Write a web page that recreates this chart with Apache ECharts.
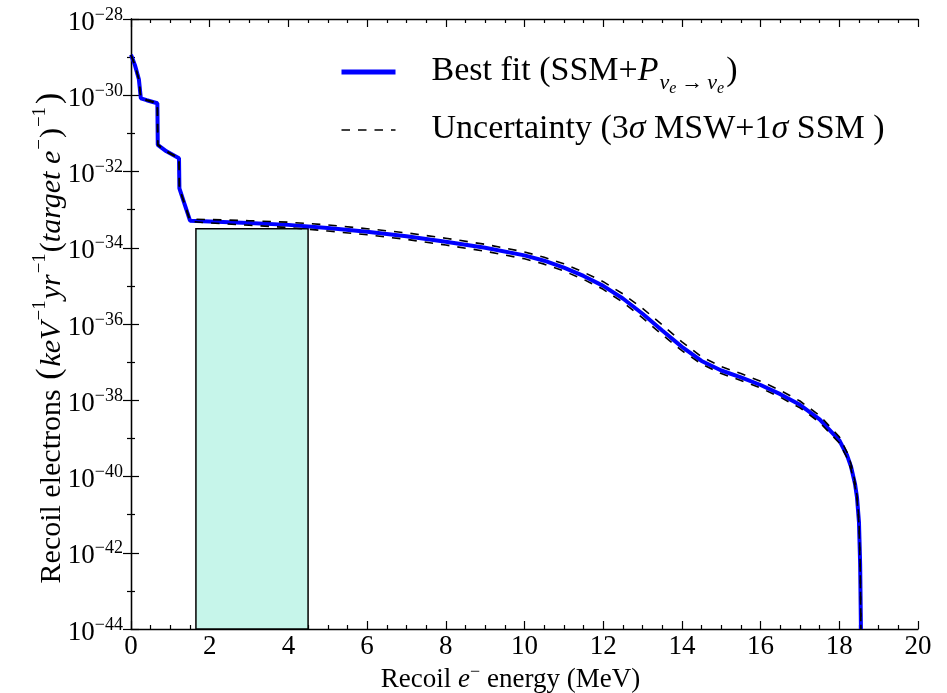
<!DOCTYPE html>
<html>
<head>
<meta charset="utf-8">
<title>Recoil electron spectrum</title>
<script src="https://cdn.jsdelivr.net/npm/echarts@6/dist/echarts.min.js"></script>
<style>
  html, body { margin: 0; padding: 0; background: #fff; }
  #chart { width: 947px; height: 693px; }
</style>
</head>
<body>
<div id="chart"></div>
<script>
// Recoil electron energy (MeV) sample points
const energy = [0.00, 0.10, 0.20, 0.25, 0.40, 0.67, 0.68, 0.90, 1.22, 1.23, 1.37, 1.50,
  2.0, 3.0, 4.0, 5.0, 6.0, 7.0, 8.0, 9.0, 10.0, 10.5, 11.0, 11.5, 12.0, 12.5, 13.0,
  13.5, 14.0, 14.5, 15.0, 15.5, 16.0, 16.5, 17.0, 17.5, 18.0, 18.2, 18.3, 18.4,
  18.45, 18.5, 18.53, 18.55];

// log10 of the rate, keV^-1 yr^-1 (target e^-)^-1
const bestFitLog = [-28.94, -29.21, -29.58, -30.08, -30.13, -30.21, -31.30, -31.47, -31.65, -32.44, -32.88, -33.29,
  -33.31, -33.35, -33.40, -33.48, -33.58, -33.70, -33.84, -34.00, -34.20, -34.34, -34.52, -34.74, -35.00, -35.33, -35.73,
  -36.17, -36.60, -36.97, -37.22, -37.40, -37.60, -37.84, -38.12, -38.50, -39.05, -39.45, -39.75, -40.20,
  -40.55, -41.20, -42.30, -44.00];

const upperLog = [-28.94, -29.21, -29.58, -30.07, -30.12, -30.20, -31.29, -31.46, -31.64, -32.43, -32.86, -33.25,
  -33.26, -33.29, -33.33, -33.40, -33.50, -33.61, -33.75, -33.91, -34.11, -34.25, -34.42, -34.64, -34.89, -35.21, -35.59,
  -36.02, -36.47, -36.86, -37.12, -37.30, -37.50, -37.74, -38.02, -38.40, -38.96, -39.37, -39.68, -40.14,
  -40.50, -41.15, -42.25, -44.00];

const lowerLog = [-28.95, -29.22, -29.59, -30.09, -30.14, -30.22, -31.31, -31.48, -31.66, -32.45, -32.90, -33.31,
  -33.35, -33.41, -33.47, -33.56, -33.66, -33.78, -33.93, -34.09, -34.29, -34.43, -34.61, -34.83, -35.09, -35.43, -35.84,
  -36.28, -36.70, -37.05, -37.30, -37.48, -37.68, -37.92, -38.20, -38.58, -39.12, -39.52, -39.82, -40.26,
  -40.60, -41.25, -42.35, -44.00];

// Detection window: [E_min, E_max, log10 height]
const windowBox = [1.65, 4.5, -33.5];

// Axis ranges; the y axis runs in decades (log10 of the rate)
const xTicks = { min: 0, max: 20, interval: 2 };
const yDecades = { min: -44, max: -28, interval: 2 };

const FONT = 'Liberation Serif';
const DASH = [8.5, 8];

const toPairs = (xs, ys) => xs.map((x, i) => [x, ys[i]]);
const minus = s => String(s).replace('-', '\u2212');

const frameLine = { show: true, lineStyle: { color: '#000', width: 1.3 } };
const majorTick = { show: true, inside: true, length: 8, lineStyle: { color: '#000', width: 1.2 } };

const yLabelRich = {
  b: { fontFamily: FONT, fontSize: 27, lineHeight: 26, padding: [3, 0, 9, 0], verticalAlign: 'top', color: '#000' },
  s: { fontFamily: FONT, fontSize: 18, lineHeight: 18, verticalAlign: 'top', color: '#000' }
};

const xTitleRich = {
  n: { fontFamily: FONT, fontSize: 27, lineHeight: 28, padding: [4, 0, 0, 0], verticalAlign: 'top', color: '#000' },
  i: { fontFamily: FONT, fontSize: 27, fontStyle: 'italic', lineHeight: 28, padding: [4, 0, 0, 0], verticalAlign: 'top', color: '#000' },
  sup: { fontFamily: FONT, fontSize: 18, lineHeight: 18, padding: [1, 0, 0, 0], verticalAlign: 'top', color: '#000' }
};

const yTitleRich = {
  n: { fontFamily: FONT, fontSize: 30, lineHeight: 32, padding: [6, 0, 0, 0], verticalAlign: 'top', color: '#000' },
  i: { fontFamily: FONT, fontSize: 30, fontStyle: 'italic', lineHeight: 32, padding: [6, 0, 0, 0], verticalAlign: 'top', color: '#000' },
  big: { fontFamily: FONT, fontSize: 34, lineHeight: 36, padding: [2, 2, 0, 2], verticalAlign: 'top', color: '#000' },
  sup: { fontFamily: FONT, fontSize: 19, lineHeight: 19, padding: [0, 1, 0, 1], verticalAlign: 'top', color: '#000' }
};

const legendRich = {
  t: { fontFamily: FONT, fontSize: 34, lineHeight: 36, verticalAlign: 'top', color: '#000' },
  it: { fontFamily: FONT, fontSize: 34, fontStyle: 'italic', lineHeight: 36, verticalAlign: 'top', color: '#000' },
  sb: { fontFamily: FONT, fontSize: 22, fontStyle: 'italic', lineHeight: 22, padding: [18, 0, 0, 1], verticalAlign: 'top', color: '#000' },
  sbn: { fontFamily: FONT, fontSize: 22, lineHeight: 22, padding: [18, 3, 0, 3], verticalAlign: 'top', color: '#000' },
  ssb: { fontFamily: FONT, fontSize: 16, fontStyle: 'italic', lineHeight: 16, padding: [27, 2, 0, 0], verticalAlign: 'top', color: '#000' }
};

const legendText = {
  'Best fit': '{t|Best fit (SSM+}{it|P}{sb|\u03bd}{ssb|e}{sbn|\u2192}{sb|\u03bd}{ssb|e}{t|)}',
  'Uncertainty': '{t|Uncertainty (3}{it|\u03c3}{t| MSW+1}{it|\u03c3}{t| SSM )}'
};

const chart = echarts.init(document.getElementById('chart'), null, { renderer: 'canvas' });

const xAxisBase = {
  type: 'value', min: xTicks.min, max: xTicks.max, interval: xTicks.interval,
  axisLine: frameLine,
  axisTick: majorTick,
  minorTick: { show: true, splitNumber: 4, length: 4, lineStyle: { color: '#000', width: 1.2 } },
  splitLine: { show: false },
  minorSplitLine: { show: false }
};

const yAxisBase = {
  type: 'value', min: yDecades.min, max: yDecades.max, interval: yDecades.interval,
  axisLine: frameLine,
  axisTick: majorTick,
  minorTick: { show: true, splitNumber: 2, length: 4, lineStyle: { color: '#000', width: 1.2 } },
  splitLine: { show: false },
  minorSplitLine: { show: false }
};

const option = {
  backgroundColor: '#fff',
  animation: false,
  grid: { left: 131, right: 29, top: 19, bottom: 64, containLabel: false, outerBoundsMode: 'none' },
  legend: {
    orient: 'vertical',
    left: 334,
    top: 49,
    itemWidth: 54,
    itemHeight: 14,
    itemGap: 15,
    data: [
      { name: 'Best fit', lineStyle: { width: 5 } },
      { name: 'Uncertainty', lineStyle: { width: 1.6 } }
    ],
    itemStyle: { color: 'rgba(0,0,0,0)', borderWidth: 0 },
    formatter: name => legendText[name],
    textStyle: { padding: [0, 0, 0, 31], rich: legendRich }
  },
  xAxis: [
    Object.assign({}, xAxisBase, {
      position: 'bottom',
      axisLabel: { fontFamily: FONT, fontSize: 27, color: '#000', margin: 4 },
      name: '{n|Recoil }{i|e}{sup|\u2212}{n| energy (MeV)}',
      nameLocation: 'middle',
      nameGap: 33,
      nameMoveOverlap: false,
      nameTextStyle: { rich: xTitleRich, padding: [0, 28, 0, 0] }
    }),
    Object.assign({}, xAxisBase, { position: 'top', axisLabel: { show: false } })
  ],
  yAxis: [
    Object.assign({}, yAxisBase, {
      position: 'left',
      axisLabel: {
        formatter: v => '{b|10}{s|' + minus(v) + '}',
        rich: yLabelRich,
        margin: 8
      },
      name: '{n|Recoil electrons }{big|(}{i|keV}{sup|\u22121}{i|yr}{sup|\u22121}{n|(}{i|target e}{sup|\u2212}{n|)}{sup|\u22121}{big|)}',
      nameLocation: 'middle',
      nameRotate: 90,
      nameGap: 64,
      nameMoveOverlap: false,
      nameTextStyle: { rich: yTitleRich, padding: [0, 26, 0, 0] }
    }),
    Object.assign({}, yAxisBase, { position: 'right', axisLabel: { show: false } })
  ],
  series: [
    {
      type: 'custom',
      name: 'window',
      xAxisIndex: 0, yAxisIndex: 0,
      silent: true,
      data: [windowBox],
      renderItem: (params, api) => {
        const top = api.coord([api.value(0), api.value(2)]);
        const bottom = api.coord([api.value(1), yDecades.min]);
        return {
          type: 'rect',
          shape: { x: top[0], y: top[1], width: bottom[0] - top[0], height: bottom[1] - top[1] },
          style: { fill: '#c6f5ea', stroke: '#000', lineWidth: 1.5 }
        };
      }
    },
    {
      type: 'line', name: 'Best fit',
      xAxisIndex: 0, yAxisIndex: 0,
      data: toPairs(energy, bestFitLog),
      showSymbol: false, symbol: 'none',
      lineStyle: { color: '#0000ff', width: 4 },
      itemStyle: { color: '#0000ff' },
      z: 3
    },
    {
      type: 'line', name: 'Uncertainty',
      xAxisIndex: 0, yAxisIndex: 0,
      data: toPairs(energy, upperLog),
      showSymbol: false, symbol: 'none',
      lineStyle: { color: '#000', width: 1.6, type: DASH },
      itemStyle: { color: '#000' },
      z: 4
    },
    {
      type: 'line', name: 'Uncertainty',
      xAxisIndex: 0, yAxisIndex: 0,
      data: toPairs(energy, lowerLog),
      showSymbol: false, symbol: 'none',
      lineStyle: { color: '#000', width: 1.6, type: DASH },
      itemStyle: { color: '#000' },
      z: 4
    }
  ]
};

chart.setOption(option);
</script>
</body>
</html>
